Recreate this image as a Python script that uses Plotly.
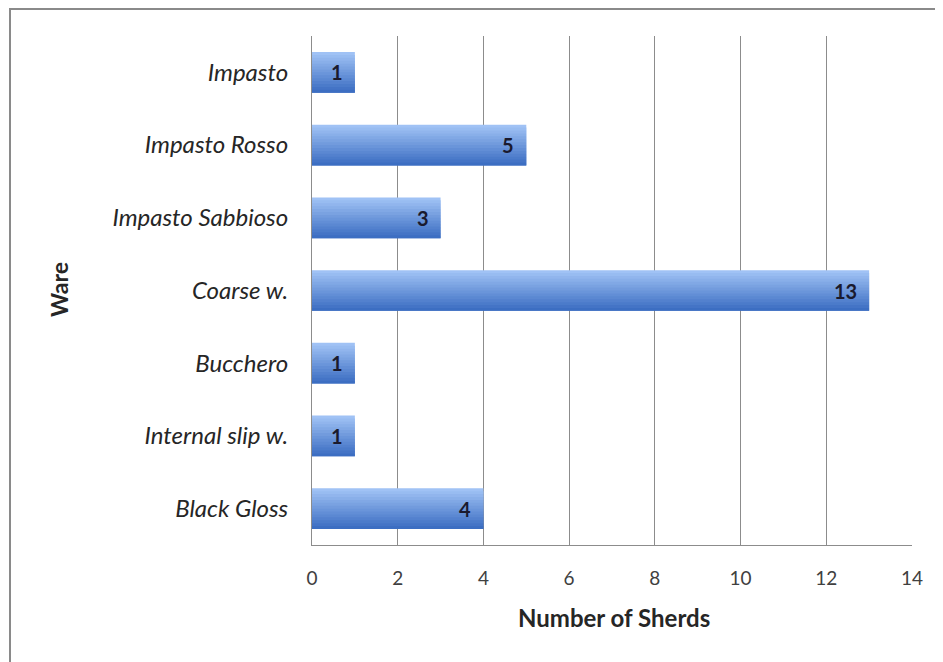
import plotly.graph_objects as go

wares = ["Impasto", "Impasto Rosso", "Impasto Sabbioso", "Coarse w.",
         "Bucchero", "Internal slip w.", "Black Gloss"]
sherds = [1, 5, 3, 13, 1, 1, 4]
x_ticks = [0, 2, 4, 6, 8, 10, 12, 14]

fig = go.Figure()

# gradient-like bars: overlapping thin slices (light top -> dark bottom)
bar_w = 0.56
n = 14
top_rgb = (160, 194, 245)
bot_rgb = (60, 110, 194)
for i in range(n):
    t = i / (n - 1)
    c = tuple(round(top_rgb[k] + (bot_rgb[k] - top_rgb[k]) * t) for k in range(3))
    off = -bar_w / 2 + i * bar_w / n
    fig.add_trace(go.Bar(
        y=wares, x=sherds, orientation="h",
        width=bar_w / n * (2 if i < n - 1 else 1),
        offset=off,
        marker=dict(color="rgb(%d,%d,%d)" % c, line=dict(width=0)),
        hoverinfo="skip", showlegend=False,
    ))

annotations = []
for w, v in zip(wares, sherds):
    annotations.append(dict(
        x=v, y=w, xref="x", yref="y", text="<b>%d</b>" % v,
        showarrow=False, xanchor="right", yanchor="middle", xshift=-10,
        font=dict(family="Lato", size=20, color="#1a1a2e"),
    ))

annotations += [
    dict(text="<b>Number of Sherds</b>", x=(614 - 312) / 600, y=(545 - 617) / 509,
         xref="paper", yref="paper", showarrow=False,
         xanchor="center", yanchor="middle",
         font=dict(size=24, color="#262626")),
    dict(text="<b>Ware</b>", x=(59 - 312) / 600, y=(545 - 290) / 509,
         xref="paper", yref="paper", showarrow=False, textangle=-90,
         xanchor="center", yanchor="middle",
         font=dict(size=23, color="#262626")),
]

fig.update_layout(
    width=935, height=654,
    barmode="overlay",
    plot_bgcolor="white", paper_bgcolor="white",
    margin=dict(l=304, r=31, t=28, b=117),
    font=dict(family="Lato", color="#404040"),
    xaxis=dict(range=[0, 14], tickvals=x_ticks, showgrid=True,
               gridcolor="#8c8c8c", gridwidth=1, zeroline=False,
               showline=True, linecolor="#8c8c8c", linewidth=1,
               ticks="", tickfont=dict(size=19, color="#404040"),
               ticklabelstandoff=16),
    yaxis=dict(autorange="reversed", showgrid=False, showline=True,
               linecolor="#8c8c8c", linewidth=1, ticks="",
               tickfont=dict(size=24, color="#262626", style="italic"),
               ticklabelstandoff=18),
    annotations=annotations,
    shapes=[
        dict(type="rect", xref="paper", yref="paper",
             x0=(10 - 312) / 600, x1=1.2, y0=-0.4, y1=(545 - 9) / 509,
             line=dict(color="#8a8a8a", width=2), layer="below"),
    ],
)

fig.write_html("out.html")
